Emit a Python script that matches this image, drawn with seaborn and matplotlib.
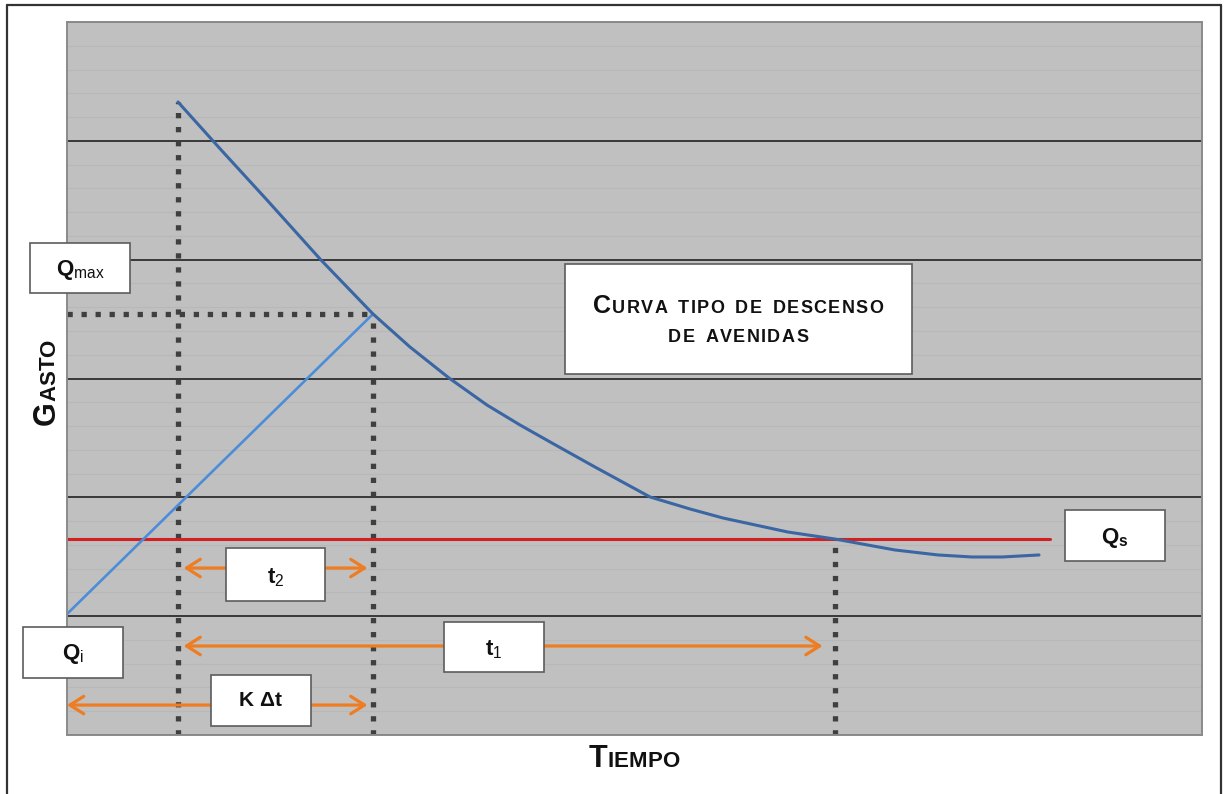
import matplotlib
matplotlib.use("Agg")
import matplotlib.pyplot as plt
import seaborn as sns
import pandas as pd
from matplotlib.patches import Rectangle
from matplotlib.lines import Line2D
from matplotlib.font_manager import FontProperties, findfont, get_font

# ---- hydrograph values (time in arbitrary units, discharge in arbitrary units) ----
peak_t, peak_q = 0.978, 5.327          # Qmax
cross_t, cross_q = 2.696, 3.543        # end of the rising limb on the recession curve
qi = 1.018                             # Qi, initial discharge
qs = 1.649                             # Qs, base discharge
qs_t = 6.767                           # time where the recession meets Qs
qs_end_t = 8.66                        # extent of the Qs line

decay_t = [0.978, 1.366, 1.762, 2.238, 2.696, 3.022, 3.366, 3.700, 3.991, 4.273,
           4.652, 5.137, 5.489, 5.780, 6.352, 6.767, 7.295, 7.674, 7.974, 8.238, 8.564]
decay_q = [5.327, 4.915, 4.502, 3.997, 3.543, 3.265, 3.004, 2.777, 2.609, 2.457,
           2.255, 2.003, 1.902, 1.826, 1.708, 1.649, 1.557, 1.515, 1.498, 1.498, 1.515]

x_range = (0, 10)
y_range = (0, 6)

W, H = 1224, 794
sns.set_style("white", {"axes.facecolor": "#c0c0c0", "axes.edgecolor": "#8a8a8a"})
plt.rcParams["font.family"] = ["Liberation Sans", "DejaVu Sans"]
plt.rcParams["mathtext.fontset"] = "custom"
plt.rcParams["mathtext.bf"] = "Liberation Sans:bold"
plt.rcParams["mathtext.rm"] = "Liberation Sans"
plt.rcParams["lines.scale_dashes"] = False

fig = plt.figure(figsize=(W / 100, H / 100), dpi=100)
fig.patch.set_facecolor("white")


def fx(px):
    return px / W


def fy(py):
    return 1 - py / H


ax = fig.add_axes([fx(67), fy(735), fx(1202) - fx(67), fy(22) - fy(735)])
ax.set_xlim(*x_range)
ax.set_ylim(*y_range)
ax.set_yticks(range(y_range[0], y_range[1] + 1))
ax.set_yticks([i * 0.2 for i in range(0, 31)], minor=True)
ax.set_xticks([])
ax.grid(False)
ax.grid(True, which="minor", axis="y", color="#b8b8b8", lw=0.8)
ax.grid(True, which="major", axis="y", color="#222222", lw=1.2)
ax.set_axisbelow(True)
ax.tick_params(which="both", length=0, labelleft=False, labelbottom=False)
for s in ax.spines.values():
    s.set_color("#8a8a8a")
    s.set_linewidth(1.4)


def guide(xs, ys):
    sns.lineplot(x=xs, y=ys, color="#3f3f3f", estimator=None, sort=False,
                 ax=ax, legend=False)
    ln = ax.lines[-1]
    ln.set_linewidth(3.8)
    ln.set_linestyle((0, (3.8, 6.3)))
    ln.set_dash_capstyle("butt")


# dotted guide lines
guide([peak_t, peak_t], [0, peak_q])
guide([cross_t, cross_t], [0, cross_q])
guide([0, cross_t], [cross_q, cross_q])
guide([qs_t, qs_t], [0, qs])

# base discharge
sns.lineplot(x=[0, qs_end_t], y=[qs, qs], color="#d21f1f", linewidth=2.2,
             estimator=None, sort=False, ax=ax, legend=False)

# rising limb
sns.lineplot(x=[0, cross_t], y=[qi, cross_q], color="#4b8dd8", linewidth=1.9,
             estimator=None, sort=False, ax=ax, legend=False)

# recession curve
decay = pd.DataFrame({"t": decay_t, "q": decay_q})
sns.lineplot(data=decay, x="t", y="q", color="#3a66a3", linewidth=2.2,
             estimator=None, sort=False, ax=ax, legend=False)
ax.lines[-1].set_solid_joinstyle("round")
ax.set_xlabel("")
ax.set_ylabel("")

# double-headed time arrows
orange = "#ee7d22"


def span(x0, x1, y, shrink_a=4, shrink_b=4):
    ax.annotate("", xy=(x1, y), xytext=(x0, y), xycoords="data",
                arrowprops=dict(arrowstyle="<->,head_length=0.55,head_width=0.35",
                                color=orange, lw=2.3, mutation_scale=18,
                                shrinkA=shrink_a, shrinkB=shrink_b),
                annotation_clip=False, zorder=5)


span(peak_t, cross_t, 1.405)
span(peak_t, qs_t, 0.749, 4, 9)
span(0, cross_t, 0.252, 0, 4)


# label boxes (pixel rectangles in figure space)
def box(x0, y0, x1, y1, label=None, size=16, dy=0):
    fig.patches.append(Rectangle((fx(x0), fy(y1)), fx(x1) - fx(x0), fy(y0) - fy(y1),
                                 transform=fig.transFigure, facecolor="white",
                                 edgecolor="#5c5c5c", lw=1.2, zorder=10))
    if label is not None:
        fig.text(fx((x0 + x1) / 2), fy((y0 + y1) / 2 + dy), label, fontsize=size,
                 ha="center", va="center", color="#111111", zorder=11)


box(30, 243, 130, 293, r"$\mathbf{Q}_{\mathrm{max}}$", 16, 2)
box(23, 627, 123, 678, r"$\mathbf{Q}_{\mathrm{i}}$", 16, 2)
box(1065, 510, 1165, 561, r"$\mathbf{Q}_{\mathbf{s}}$", 16, 2)
box(226, 548, 325, 601, r"$\mathbf{t}_{\mathrm{2}}$", 16, 3)
box(444, 622, 544, 672, r"$\mathbf{t}_{\mathrm{1}}$", 16, 3)
box(211, 675, 311, 726, r"$\mathbf{K\ \Delta t}$", 15)
box(565, 264, 912, 374)

# small-caps text drawn letter by letter
_bold = get_font(findfont(FontProperties(family="Liberation Sans", weight="bold")))


def advance(ch, size):
    _bold.set_size(size, 100)
    g = _bold.load_char(ord(ch))
    return g.linearHoriAdvance / 65536.0


def smallcaps(runs, cx, cy, tracking=0.0, word_gap=0.0, rotation=0):
    items, total = [], 0.0
    for text, size in runs:
        for ch in text:
            items.append((ch, size, total))
            total += advance(ch, size) + tracking + (word_gap if ch == " " else 0)
    total -= tracking
    start = -total / 2
    for ch, size, off in items:
        if ch == " ":
            continue
        d = start + off
        if rotation == 0:
            x, y = cx + d, cy
        else:
            x, y = cx, cy - d
        fig.text(fx(x), fy(y), ch, fontsize=size, fontweight="bold",
                 family="Liberation Sans", color="#111111", rotation=rotation,
                 rotation_mode="anchor", ha="left", va="baseline", zorder=12)


smallcaps([("C", 18), ("URVA TIPO DE DESCENSO", 13)], 738, 313, tracking=1.4, word_gap=3)
smallcaps([("DE AVENIDAS", 13)], 738, 342, tracking=1.4, word_gap=3)
smallcaps([("T", 22), ("IEMPO", 16)], 634, 767)
smallcaps([("G", 22), ("ASTO", 16)], 55, 382, rotation=90)

# outer frame
frame = dict(color="#333333", lw=1.6, transform=fig.transFigure)
fig.lines.append(Line2D([fx(7), fx(7)], [0, fy(5)], **frame))
fig.lines.append(Line2D([fx(7), fx(1221)], [fy(5), fy(5)], **frame))
fig.lines.append(Line2D([fx(1221), fx(1221)], [0, fy(5)], **frame))

fig.savefig("out.png", dpi=100, facecolor="white")
